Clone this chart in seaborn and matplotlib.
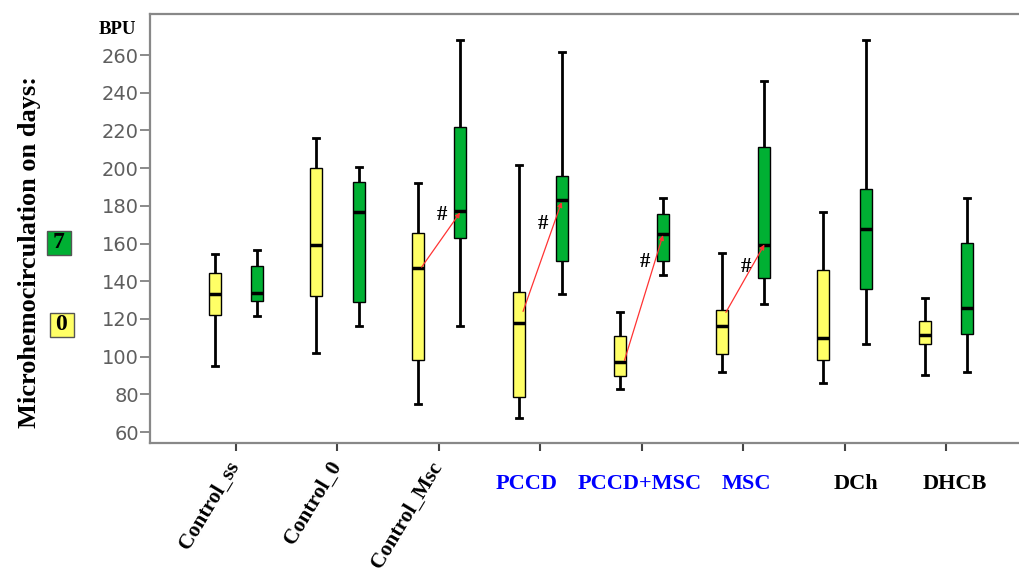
import numpy as np
import pandas as pd
import matplotlib
matplotlib.use("Agg")
import matplotlib.pyplot as plt
import seaborn as sns
from matplotlib.patches import Rectangle
from matplotlib.transforms import blended_transform_factory

# groups on the x axis
groups = ["Control_ss", "Control_0", "Control_Msc", "PCCD", "PCCD+MSC", "MSC", "DCh", "DHCB"]
label_colors = ["black", "black", "black", "blue", "blue", "blue", "black", "black"]
days = ["0", "7"]

# day 0 (yellow) box statistics, BPU
d0_min = [95, 102, 75, 67.5, 83, 92, 86, 90.5]
d0_q1 = [122, 132, 98, 78.5, 90, 101.5, 98, 106.5]
d0_med = [133.5, 159, 147, 118, 97, 116.5, 110, 111.5]
d0_q3 = [144.5, 200, 165.5, 134.5, 111, 124.5, 146, 119]
d0_max = [154.5, 216, 192, 201.5, 123.5, 155, 177, 131]

# day 7 (green) box statistics, BPU
d7_min = [121.5, 116.5, 116.5, 133, 143.5, 128, 106.5, 92]
d7_q1 = [129.5, 129, 163, 151, 150.5, 141.5, 136, 112]
d7_med = [134, 177, 177.5, 183, 165, 159, 167.5, 126]
d7_q3 = [148, 192.5, 222, 196, 175.5, 211.5, 189, 160.5]
d7_max = [156.5, 200.5, 268, 261.5, 184, 246, 268, 184]

# significant changes (#) between day 0 and day 7
sig_groups = [2, 3, 4, 5]
arrow_y0 = [147.5, 124, 98, 123.5]
arrow_y1 = [176.5, 182, 164.5, 159.5]
hash_y = [175, 170.5, 150, 147.5]

yticks = list(range(60, 261, 20))

# five values per box give exactly min/q1/median/q3/max
rows = []
for i, g in enumerate(groups):
    for day, stats in (("0", (d0_min, d0_q1, d0_med, d0_q3, d0_max)),
                       ("7", (d7_min, d7_q1, d7_med, d7_q3, d7_max))):
        for s in stats:
            rows.append({"group": g, "day": day, "value": s[i]})
df = pd.DataFrame(rows)

yellow = "#FFFF66"
green = "#00B033"
serif = "Liberation Serif"

fig = plt.figure(figsize=(10.19, 5.70), dpi=100)
ax = fig.add_axes([150 / 1019, 127 / 570, 869 / 1019, 429 / 570])

sns.boxplot(
    data=df, x="group", y="value", hue="day",
    order=groups, hue_order=days,
    palette={"0": yellow, "7": green}, saturation=1,
    width=0.84, gap=0.72, whis=(0, 100), showfliers=False,
    linecolor="black", linewidth=1,
    whiskerprops=dict(linewidth=2), capprops=dict(linewidth=2),
    medianprops=dict(linewidth=2.5),
    legend=False, ax=ax,
)

ax.set_xlim(-0.848, 7.72)
ax.set_ylim(54.2, 281.8)
ax.set_yticks(yticks)
ax.set_yticklabels([str(v) for v in yticks], fontsize=14, color="#5e5e5e",
                   family="DejaVu Sans")
ax.tick_params(axis="y", length=7, width=1.2, color="#777777", pad=1)
ax.tick_params(axis="x", length=6, width=1.5, color="#444444")
ax.set_xticks(range(len(groups)))
ax.set_xticklabels([])
ax.set_xlabel("")
ax.set_ylabel("")
for side in ["left", "bottom", "top"]:
    ax.spines[side].set_color("#888888")
    ax.spines[side].set_linewidth(1.6)
ax.spines["right"].set_visible(False)

# x labels: rotated controls, horizontal treatment groups
trans = blended_transform_factory(ax.transData, ax.transAxes)
label_dx = [-0.09, -0.09, -0.09, -0.13, -0.02, 0.03, 0.11, 0.09]
for i, g in enumerate(groups):
    if i < 3:
        ax.text(i + label_dx[i], -0.035, g, transform=trans, rotation=59,
                rotation_mode="anchor", ha="right", va="top",
                fontsize=15.5, fontweight="bold", family=serif, color=label_colors[i])
    else:
        ax.text(i + label_dx[i], -0.096, g, transform=trans, ha="center",
                va="center", fontsize=16, fontweight="bold", family=serif,
                color=label_colors[i])

# red arrows from day 0 to day 7 with '#'
for k, i in enumerate(sig_groups):
    ax.annotate("", xy=(i + 0.21, arrow_y1[k]), xytext=(i - 0.17, arrow_y0[k]),
                arrowprops=dict(arrowstyle="-|>", color="#ff3333", lw=0.9,
                                mutation_scale=7, shrinkA=0, shrinkB=0))
    ax.text(i + 0.03, hash_y[k], "#", ha="center", va="center", fontsize=15,
            fontweight="bold", family=serif)

# unit and axis title
fig.text(117 / 1019, 1 - 29 / 570, "BPU", ha="center", va="center",
         fontsize=13.5, fontweight="bold", family=serif)
fig.text(30 / 1019, 1 - 252 / 570, "Microhemocirculation on days:", rotation=90,
         ha="center", va="center", fontsize=19, fontweight="bold", family=serif)

# day key boxes
for day, color, cx, cy in (("7", green, 59, 243), ("0", yellow, 61.5, 324.5)):
    fig.patches.append(Rectangle(((cx - 12) / 1019, 1 - (cy + 12) / 570), 24 / 1019, 24 / 570,
                                 transform=fig.transFigure, facecolor=color,
                                 edgecolor="#555555", linewidth=1))
    fig.text(cx / 1019, 1 - cy / 570, day, ha="center", va="center",
             fontsize=17, fontweight="bold", family=serif)

fig.savefig("out.png", dpi=100)
